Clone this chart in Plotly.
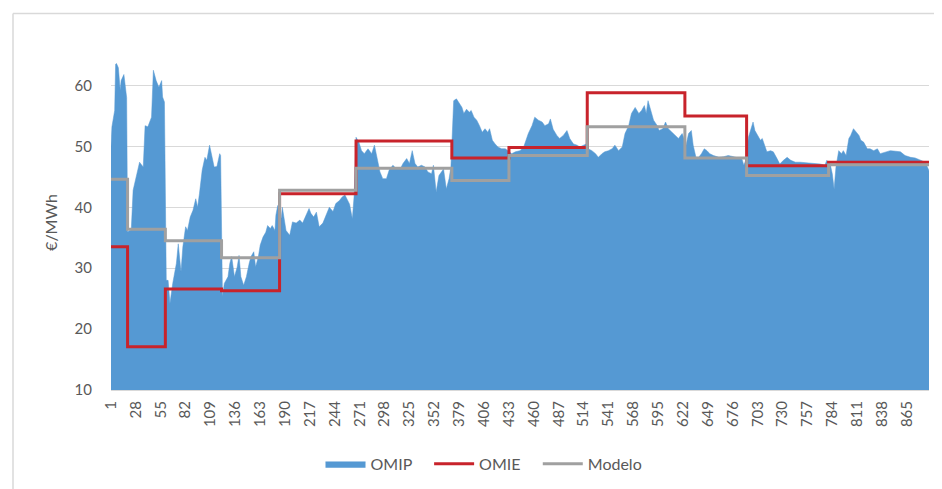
import plotly.graph_objects as go

# OMIP forward price
omip_x = [1, 2, 5, 6, 7, 9, 11, 12, 15, 17, 18, 19, 23, 25, 28, 32, 36, 38, 41, 45, 47, 50, 53, 56, 57, 59,
          61, 63, 65, 68, 72, 74, 77, 79, 82, 84, 87, 90, 93, 95, 97, 100, 103, 105, 108, 111, 113, 116, 119, 120,
          122, 124, 128, 130, 132, 135, 138, 140, 142, 145, 148, 151, 153, 156, 158, 161, 163, 166, 169, 171, 174,
          176, 179, 180, 182, 184, 186, 187, 191, 195, 198, 202, 206, 209, 213, 216, 218, 221, 224, 227, 231, 235,
          238, 242, 245, 249, 252, 255, 260, 263, 265, 267, 270, 273, 276, 280, 284, 287, 290, 293, 296, 300, 303,
          307, 311, 315, 318, 322, 325, 328, 331, 334, 338, 342, 345, 349, 351, 354, 357, 360, 362, 365, 368, 370,
          373, 376, 379, 382, 384, 387, 390, 392, 395, 398, 401, 404, 407, 410, 412, 415, 418, 421, 425, 429, 432,
          436, 440, 445, 449, 454, 458, 461, 465, 469, 472, 476, 478, 481, 485, 488, 492, 496, 499, 503, 507, 510,
          514, 517, 519, 523, 527, 530, 534, 537, 541, 545, 548, 552, 556, 559, 563, 566, 570, 574, 577, 580, 582,
          584, 587, 590, 594, 596, 600, 603, 606, 610, 613, 617, 621, 623, 625, 628, 631, 633, 636, 639, 642, 645,
          648, 651, 655, 661, 666, 671, 677, 682, 686, 688, 690, 693, 696, 698, 700, 703, 706, 708, 711, 713, 717,
          720, 724, 727, 731, 735, 739, 744, 749, 757, 764, 771, 776, 778, 782, 784, 786, 788, 791, 794, 796, 799,
          802, 804, 807, 810, 813, 815, 818, 822, 825, 829, 833, 836, 842, 847, 853, 858, 863, 869, 874, 880, 885,
          889]
omip_y = [50.0, 53.2, 55.9, 63.5, 63.6, 62.9, 59.2, 60.8, 61.8, 58.6, 58.0, 36.0, 36.3, 42.8, 45.0, 47.4, 46.6,
          53.4, 53.2, 54.8, 62.5, 60.8, 59.7, 60.8, 58.1, 57.3,
          28.0, 28.0, 24.2, 27.5, 30.8, 34.0, 29.4, 33.5, 36.8, 36.2, 38.4, 39.5, 41.4, 40.0, 42.2, 46.1, 48.2, 47.7,
          50.2, 47.7, 46.6, 46.7, 48.8, 48.5,
          25.3, 27.5, 28.6, 30.8, 31.9, 28.6, 30.2, 32.1, 28.6, 27.2, 28.6, 30.8, 31.9, 32.7, 30.2, 31.9, 33.8, 35.1,
          35.9, 37.0, 36.5,
          37.0, 36.2, 38.7, 40.3, 37.4, 38.4, 40.0, 36.2, 35.4, 37.6, 37.4, 37.9, 37.4, 38.7, 39.8, 39.0, 38.4, 39.2,
          36.8, 37.4, 39.0,
          40.0, 39.3, 40.6, 41.1, 41.7, 42.0, 40.5, 38.1, 42.0, 51.5, 50.7, 49.3, 48.8, 49.6, 48.8, 50.2, 47.7, 45.8,
          44.7, 44.7, 46.1,
          46.9, 46.3, 46.3, 47.2, 48.0, 47.2, 49.3, 47.2, 46.6, 46.9, 46.6, 45.8, 45.5, 46.9, 42.5, 45.2, 45.8, 46.3,
          43.0, 44.7, 46.6,
          57.5, 57.8, 57.2, 56.4, 55.4, 56.1, 55.6, 55.9, 54.8, 54.3, 53.4, 52.3, 52.9, 52.3, 52.9, 51.0, 50.4, 49.9,
          49.6, 49.6, 49.3,
          48.8, 49.1, 49.3, 49.9, 52.1, 53.4, 54.8, 54.3, 54.0, 53.4, 53.7, 54.5, 52.8, 51.8, 51.3, 51.8, 52.6, 51.3,
          50.4, 50.2, 49.9,
          50.2, 50.4, 49.6, 49.3, 48.8, 48.2, 48.8, 49.1, 49.3, 49.6, 50.2, 49.3, 49.9, 52.1, 53.4, 55.4, 56.4, 55.4,
          55.9, 56.7, 55.4,
          57.5, 55.9, 54.3, 53.4, 52.6, 52.9, 54.0, 52.9, 52.3, 51.8, 51.3, 52.1, 51.3, 50.0, 52.1, 52.6, 50.2, 48.2,
          48.2, 48.8, 49.6,
          49.3, 48.8, 48.5, 48.2, 48.3, 48.5, 48.3, 48.1, 47.9, 46.9, 47.7, 51.5, 52.9, 54.0, 52.6, 51.8, 51.0, 51.3,
          49.9, 49.1, 49.3,
          49.1, 48.0, 47.1, 47.7, 48.2, 47.7, 47.4, 47.4, 47.3, 47.3, 47.1, 46.9, 47.7, 46.9, 45.5, 43.0, 46.6, 49.3,
          48.8, 49.3, 48.5,
          51.3, 51.8, 52.9, 52.3, 51.8, 51.0, 50.7, 49.6, 49.6, 49.3, 49.6, 48.8, 49.1, 49.3, 49.2, 49.1, 48.5, 48.2,
          48.1, 47.7, 47.4,
          46.0]

# Step series: start of each period and its level
step_x = [1, 19, 60, 121, 184, 267, 371, 433, 518, 624, 691, 780, 889]
omie = [33.5, 17.1, 26.6, 26.3, 42.2, 50.9, 48.1, 49.8, 58.8, 55.0, 46.8, 47.4]
modelo = [44.6, 36.4, 34.5, 31.7, 42.8, 46.4, 44.4, 48.5, 53.2, 48.1, 45.2, 47.0]

tick_vals = list(range(1, 889, 27))
y_ticks = [10, 20, 30, 40, 50, 60]

FONT = "Lato"
TXT = "#595959"
NB = "\u00a0"

fig = go.Figure()
fig.add_trace(go.Scatter(
    x=omip_x, y=omip_y, name="OMIP" + NB * 3, mode="lines",
    line=dict(color="#5599D3", width=0.5), fill="tozeroy", fillcolor="#5599D3",
    hoverinfo="skip"))
fig.add_trace(go.Scatter(
    x=step_x, y=omie + [omie[-1]], name="OMIE" + NB * 3, mode="lines",
    line=dict(color="#C8232B", width=3, shape="hv"), hoverinfo="skip"))
fig.add_trace(go.Scatter(
    x=step_x, y=modelo + [modelo[-1]], name="Modelo", mode="lines",
    line=dict(color="#A0A0A0", width=3, shape="hv"), hoverinfo="skip"))

OFF = 8  # page body margin
W, H = 942 - OFF, 489 - OFF
# plot area in page pixels: x 111..929, y 54.5..390
L = 111 - OFF
T = 54.5 - OFF
R = W - (929 - OFF)
B = H - (390 - OFF)
pw, ph = W - L - R, H - T - B


def px_x(p):
    return (p - OFF - L) / pw


def px_y(p):
    return (H - B - (p - OFF)) / ph


fig.add_shape(type="line", xref="paper", yref="paper",
              x0=px_x(13), x1=px_x(960), y0=px_y(13), y1=px_y(13),
              line=dict(color="#D9D9D9", width=1.5))
fig.add_shape(type="line", xref="paper", yref="paper",
              x0=px_x(13), x1=px_x(13), y0=px_y(13), y1=px_y(520),
              line=dict(color="#D9D9D9", width=1.5))

fig.update_layout(
    width=W, height=H,
    margin=dict(l=L, r=R, t=T, b=B, autoexpand=False),
    paper_bgcolor="white", plot_bgcolor="white",
    font=dict(family=FONT, color=TXT, size=15),
    showlegend=True,
    legend=dict(orientation="h", x=px_x(484), xanchor="center", y=px_y(464), yanchor="middle",
                font=dict(size=16, color=TXT), traceorder="normal", itemwidth=40),
    xaxis=dict(range=[1, 889], tickmode="array", tickvals=tick_vals,
               ticktext=[str(v) for v in tick_vals], tickangle=-90,
               showgrid=False, zeroline=False, showline=True, linecolor="#D9D9D9", linewidth=1,
               ticks="", tickfont=dict(size=15, color=TXT), ticklabelstandoff=4),
    yaxis=dict(range=[10, 65], tickmode="array", tickvals=y_ticks,
               showgrid=True, gridcolor="#D9D9D9", gridwidth=1, zeroline=False, showline=False,
               ticks="", tickfont=dict(size=15, color=TXT), ticklabelstandoff=18,
               title=dict(text="€/MWh", font=dict(size=16, color=TXT), standoff=12)),
)

fig.write_html("out.html")
